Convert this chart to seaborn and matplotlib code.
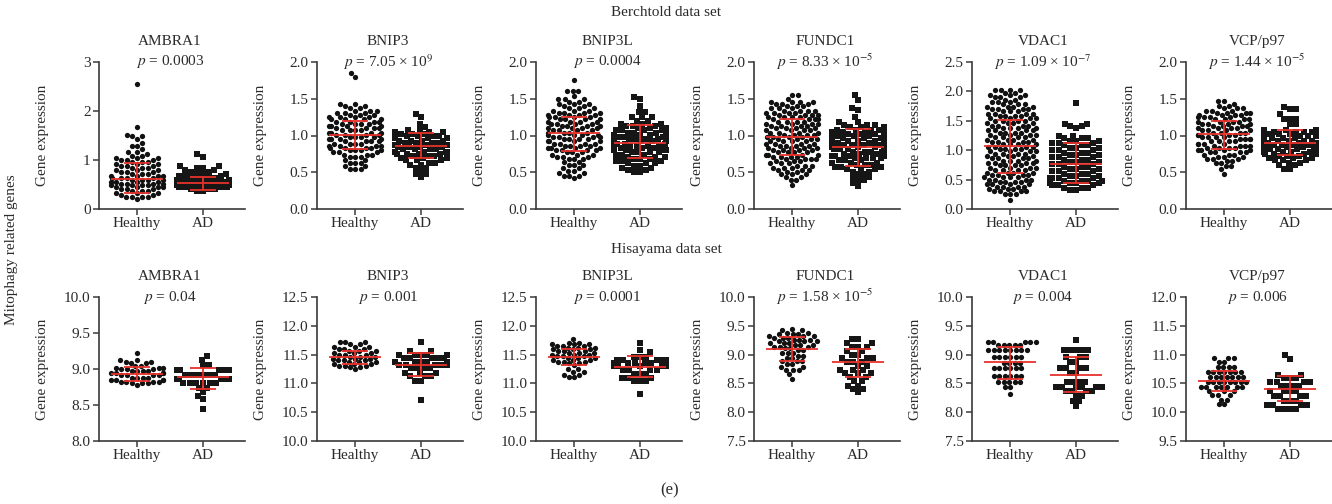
import numpy as np
import pandas as pd
import matplotlib
matplotlib.use("Agg")
import matplotlib.pyplot as plt
import matplotlib.transforms as mtransforms
import seaborn as sns

# ---------------- data ----------------
genes = ["AMBRA1", "BNIP3", "BNIP3L", "FUNDC1", "VDAC1", "VCP/p97"]
groups = ["Healthy", "AD"]

berch_pvals = [r"$p$ = 0.0003", r"$p$ = 7.05 × 10$^{9}$", r"$p$ = 0.0004",
               r"$p$ = 8.33 × 10$^{-5}$", r"$p$ = 1.09 × 10$^{-7}$", r"$p$ = 1.44 × 10$^{-5}$"]
hisa_pvals = [r"$p$ = 0.04", r"$p$ = 0.001", r"$p$ = 0.0001",
              r"$p$ = 1.58 × 10$^{-5}$", r"$p$ = 0.004", r"$p$ = 0.006"]

berch_yticks = [[0, 1, 2, 3], [0.0, 0.5, 1.0, 1.5, 2.0], [0.0, 0.5, 1.0, 1.5, 2.0],
                [0.0, 0.5, 1.0, 1.5, 2.0], [0.0, 0.5, 1.0, 1.5, 2.0, 2.5], [0.0, 0.5, 1.0, 1.5, 2.0]]
berch_ticklabels = [["0", "1", "2", "3"], ["0.0", "0.5", "1.0", "1.5", "2.0"],
                    ["0.0", "0.5", "1.0", "1.5", "2.0"], ["0.0", "0.5", "1.0", "1.5", "2.0"],
                    ["0.0", "0.5", "1.0", "1.5", "2.0", "2.5"], ["0.0", "0.5", "1.0", "1.5", "2.0"]]
hisa_yticks = [[8.0, 8.5, 9.0, 9.5, 10.0], [10.0, 10.5, 11.0, 11.5, 12.0, 12.5],
               [10.0, 10.5, 11.0, 11.5, 12.0, 12.5], [7.5, 8.0, 8.5, 9.0, 9.5, 10.0],
               [7.5, 8.0, 8.5, 9.0, 9.5, 10.0], [9.5, 10.0, 10.5, 11.0, 11.5, 12.0]]

# mean and SD bars: [Healthy, AD]
berch_means = [[0.62, 0.53], [1.007, 0.861], [1.038, 0.903], [0.975, 0.84], [1.071, 0.772], [1.016, 0.902]]
berch_sd_low = [[0.33, 0.383], [0.815, 0.692], [0.79, 0.688], [0.729, 0.586], [0.61, 0.449], [0.815, 0.737]]
berch_sd_high = [[0.929, 0.656], [1.203, 1.03], [1.25, 1.142], [1.221, 1.09], [1.52, 1.118], [1.194, 1.071]]
hisa_means = [[8.93, 8.884], [11.46, 11.328], [11.46, 11.287], [9.102, 8.864], [8.863, 8.654], [10.547, 10.407]]
hisa_sd_low = [[8.838, 8.727], [11.333, 11.132], [11.316, 11.103], [8.892, 8.614], [8.575, 8.348], [10.366, 10.192]]
hisa_sd_high = [[9.028, 9.014], [11.569, 11.534], [11.603, 11.483], [9.307, 9.102], [9.14, 8.965], [10.721, 10.634]]

# dot rows: level value and number of dots at that level
# Berchtold data set
b_ambra1_h_lv = [2.55, 1.68, 1.52, 1.48, 1.43, 1.35, 1.29, 1.22, 1.16, 1.12, 1.08, 1.04, 1.00, 0.96, 0.92, 0.88, 0.84,
                 0.80, 0.76, 0.72, 0.68, 0.64, 0.60, 0.56, 0.52, 0.48, 0.44, 0.40, 0.36, 0.32, 0.28, 0.24, 0.20]
b_ambra1_h_ct = [1, 1, 1, 2, 1, 1, 2, 1, 2, 1, 2, 3, 3, 3, 3, 3, 3,
                 3, 3, 3, 4, 4, 4, 4, 4, 4, 4, 3, 3, 3, 2, 4, 1]
b_ambra1_a_lv = [1.12, 1.07, 0.87, 0.84, 0.80, 0.76, 0.72, 0.68, 0.64, 0.60, 0.56, 0.52, 0.48, 0.44, 0.40, 0.36]
b_ambra1_a_ct = [1, 1, 2, 2, 2, 2, 3, 3, 3, 4, 4, 4, 4, 4, 3, 2]

b_bnip3_h_lv = [1.85, 1.80, 1.43, 1.40, 1.37, 1.34, 1.31, 1.28, 1.25, 1.22, 1.19, 1.16, 1.13, 1.10, 1.07, 1.04,
                1.01, 0.98, 0.95, 0.92, 0.89, 0.86, 0.83, 0.80, 0.77, 0.74, 0.71, 0.67, 0.63, 0.59, 0.55]
b_bnip3_h_ct = [1, 1, 2, 2, 2, 3, 3, 3, 4, 4, 4, 4, 4, 4, 4, 4,
                4, 4, 4, 4, 4, 4, 4, 4, 3, 3, 3, 2, 3, 2, 3]
b_bnip3_a_lv = [1.29, 1.25, 1.16, 1.12, 1.08, 1.05, 1.02, 0.99, 0.96, 0.93, 0.90, 0.87, 0.84,
                0.81, 0.78, 0.75, 0.72, 0.69, 0.66, 0.63, 0.60, 0.56, 0.52, 0.48, 0.44]
b_bnip3_a_ct = [1, 1, 1, 1, 2, 3, 3, 4, 4, 4, 4, 4, 4, 4, 4, 4, 3, 3, 3, 2, 2, 2, 1, 2, 1]

b_bnip3l_h_lv = [1.76, 1.61, 1.54, 1.50, 1.46, 1.43, 1.40, 1.37, 1.34, 1.31, 1.28, 1.25, 1.22, 1.19, 1.16, 1.13,
                 1.10, 1.07, 1.04, 1.01, 0.98, 0.95, 0.92, 0.89, 0.86, 0.83, 0.80, 0.77, 0.74, 0.71, 0.68,
                 0.64, 0.60, 0.56, 0.52, 0.49, 0.45, 0.42]
b_bnip3l_h_ct = [1, 3, 1, 3, 2, 3, 2, 3, 3, 4, 4, 4, 4, 4, 4, 4,
                 4, 4, 4, 4, 4, 4, 4, 4, 4, 4, 4, 3, 3, 3, 3,
                 2, 3, 2, 2, 2, 3, 1]
b_bnip3l_a_lv = [1.52, 1.49, 1.40, 1.32, 1.25, 1.20, 1.16, 1.13, 1.10, 1.07, 1.04, 1.01, 0.98, 0.95, 0.92,
                 0.89, 0.86, 0.83, 0.80, 0.77, 0.74, 0.71, 0.68, 0.65, 0.62, 0.59, 0.56, 0.53, 0.50]
b_bnip3l_a_ct = [1, 1, 1, 2, 3, 2, 3, 3, 3, 4, 4, 4, 4, 4, 4,
                 4, 4, 4, 4, 4, 3, 3, 3, 3, 3, 2, 2, 2, 2]

b_fundc1_h_lv = [1.55, 1.50, 1.46, 1.43, 1.40, 1.37, 1.34, 1.31, 1.28, 1.25, 1.22, 1.19, 1.16, 1.13, 1.10, 1.07,
                 1.04, 1.01, 0.98, 0.95, 0.92, 0.89, 0.86, 0.83, 0.80, 0.77, 0.74, 0.71, 0.68, 0.65, 0.62,
                 0.59, 0.56, 0.53, 0.50, 0.47, 0.43, 0.40, 0.33]
b_fundc1_h_ct = [2, 1, 4, 3, 3, 3, 4, 4, 4, 4, 4, 4, 4, 4, 4, 4,
                 4, 4, 4, 4, 4, 4, 4, 4, 4, 4, 4, 4, 4, 3, 3,
                 3, 3, 3, 2, 3, 2, 2, 1]
b_fundc1_a_lv = [1.55, 1.48, 1.38, 1.35, 1.25, 1.18, 1.14, 1.11, 1.08, 1.05, 1.02, 0.99, 0.96, 0.93, 0.90, 0.87,
                 0.84, 0.81, 0.78, 0.75, 0.72, 0.69, 0.66, 0.63, 0.60, 0.57, 0.54, 0.51, 0.47, 0.43, 0.39, 0.35, 0.31]
b_fundc1_a_ct = [1, 1, 1, 1, 1, 2, 3, 3, 4, 4, 4, 4, 4, 4, 4, 4,
                 4, 4, 4, 4, 4, 4, 3, 3, 3, 3, 3, 2, 2, 2, 2, 1, 1]

b_vdac1_h_lv = [2.03, 1.98, 1.94, 1.90, 1.86, 1.82, 1.78, 1.74, 1.70, 1.66, 1.62, 1.58, 1.54, 1.50, 1.46, 1.42,
                1.38, 1.34, 1.30, 1.26, 1.22, 1.18, 1.14, 1.10, 1.06, 1.02, 0.98, 0.94, 0.90, 0.86, 0.82, 0.78,
                0.74, 0.70, 0.66, 0.62, 0.58, 0.54, 0.50, 0.46, 0.42, 0.38, 0.34, 0.30, 0.26, 0.15]
b_vdac1_h_ct = [4, 2, 3, 3, 2, 3, 3, 4, 4, 3, 4, 4, 4, 4, 4, 4,
                4, 4, 4, 4, 4, 4, 4, 4, 4, 4, 4, 4, 4, 4, 4, 4,
                4, 4, 4, 4, 4, 4, 4, 4, 4, 4, 3, 4, 3, 1]
b_vdac1_a_lv = [1.80, 1.45, 1.41, 1.37, 1.25, 1.20, 1.16, 1.12, 1.08, 1.04, 1.00, 0.96, 0.92, 0.88,
                0.84, 0.80, 0.76, 0.72, 0.68, 0.64, 0.60, 0.56, 0.52, 0.48, 0.44, 0.40, 0.36, 0.33]
b_vdac1_a_ct = [1, 2, 2, 1, 2, 3, 3, 3, 3, 3, 3, 3, 3, 3,
                3, 3, 3, 3, 3, 3, 3, 3, 4, 4, 4, 3, 3, 2]

b_vcp_h_lv = [1.47, 1.43, 1.40, 1.37, 1.34, 1.31, 1.28, 1.25, 1.22, 1.19, 1.16, 1.13, 1.10, 1.07, 1.04, 1.01,
              0.98, 0.95, 0.92, 0.89, 0.86, 0.83, 0.80, 0.77, 0.74, 0.71, 0.68, 0.65, 0.62, 0.58, 0.54, 0.48]
b_vcp_h_ct = [2, 1, 2, 3, 3, 4, 4, 4, 4, 4, 4, 4, 4, 4, 4, 4,
              4, 4, 4, 4, 4, 4, 4, 4, 3, 3, 3, 2, 2, 2, 1, 1]
b_vcp_a_lv = [1.39, 1.36, 1.29, 1.23, 1.15, 1.08, 1.05, 1.02, 0.99, 0.96, 0.93, 0.90, 0.87, 0.84, 0.81,
              0.78, 0.75, 0.72, 0.69, 0.66, 0.63, 0.60, 0.55]
b_vcp_a_ct = [1, 2, 1, 3, 2, 3, 4, 4, 4, 4, 4, 4, 4, 4, 4, 4, 4, 3, 3, 3, 2, 2, 2]

# Hisayama data set
h_ambra1_h_lv = [9.22, 9.12, 9.10, 9.08, 9.04, 9.02, 9.00, 8.97, 8.94, 8.91, 8.88, 8.85, 8.82, 8.80, 8.78]
h_ambra1_h_ct = [1, 2, 2, 2, 2, 3, 3, 4, 4, 4, 4, 4, 4, 3, 1]
h_ambra1_a_lv = [9.18, 9.13, 9.05, 8.98, 8.92, 8.86, 8.81, 8.74, 8.68, 8.63, 8.58, 8.45]
h_ambra1_a_ct = [1, 1, 2, 6, 6, 6, 6, 2, 1, 1, 1, 1]

h_bnip3_h_lv = [11.72, 11.68, 11.64, 11.60, 11.56, 11.52, 11.49, 11.46, 11.43, 11.40, 11.37, 11.34, 11.31, 11.28, 11.25]
h_bnip3_h_ct = [3, 2, 3, 3, 3, 3, 3, 3, 3, 3, 3, 3, 3, 2, 1]
h_bnip3_a_lv = [11.72, 11.57, 11.50, 11.44, 11.38, 11.32, 11.26, 11.18, 11.12, 11.05, 10.72]
h_bnip3_a_ct = [1, 2, 5, 5, 5, 5, 4, 3, 3, 2, 1]

h_bnip3l_h_lv = [11.77, 11.71, 11.68, 11.65, 11.62, 11.59, 11.56, 11.53, 11.50, 11.47, 11.44, 11.41, 11.38,
                 11.35, 11.32, 11.25, 11.20, 11.15, 11.11]
h_bnip3l_h_ct = [1, 2, 3, 3, 3, 3, 3, 3, 3, 3, 3, 3, 3, 2, 1, 2, 2, 2, 2]
h_bnip3l_a_lv = [11.70, 11.58, 11.54, 11.46, 11.40, 11.35, 11.30, 11.24, 11.17, 11.10, 11.05, 10.82]
h_bnip3l_a_ct = [1, 1, 1, 3, 5, 6, 6, 4, 3, 3, 3, 1]

h_fundc1_h_lv = [9.45, 9.42, 9.38, 9.35, 9.32, 9.29, 9.26, 9.23, 9.20, 9.17, 9.14, 9.11, 9.08, 9.03, 8.98,
                 8.94, 8.89, 8.84, 8.78, 8.73, 8.66, 8.58]
h_fundc1_h_ct = [1, 2, 2, 3, 3, 3, 3, 3, 3, 3, 3, 2, 2, 3, 2, 2, 3, 2, 2, 3, 1, 1]
h_fundc1_a_lv = [9.27, 9.20, 9.14, 9.07, 9.00, 8.94, 8.88, 8.81, 8.74, 8.68, 8.61, 8.54, 8.46, 8.40, 8.35]
h_fundc1_a_ct = [2, 2, 3, 2, 2, 3, 3, 2, 3, 3, 2, 2, 2, 2, 1]

h_vdac1_h_lv = [9.22, 9.17, 9.08, 8.95, 8.85, 8.76, 8.63, 8.52, 8.43, 8.31]
h_vdac1_h_ct = [5, 5, 8, 6, 4, 6, 6, 5, 2, 1]
h_vdac1_a_lv = [9.25, 9.08, 8.96, 8.88, 8.76, 8.68, 8.53, 8.44, 8.36, 8.28, 8.19, 8.10]
h_vdac1_a_ct = [1, 5, 3, 2, 4, 2, 4, 6, 4, 2, 2, 1]

h_vcp_h_lv = [10.94, 10.88, 10.78, 10.69, 10.61, 10.53, 10.44, 10.36, 10.29, 10.22, 10.14]
h_vcp_h_ct = [3, 2, 4, 7, 7, 8, 7, 3, 3, 2, 2]
h_vcp_a_lv = [11.00, 10.93, 10.65, 10.60, 10.52, 10.45, 10.36, 10.28, 10.20, 10.12, 10.06]
h_vcp_a_ct = [1, 1, 2, 3, 4, 4, 4, 4, 3, 4, 4]

berch_data = [
    ((b_ambra1_h_lv, b_ambra1_h_ct), (b_ambra1_a_lv, b_ambra1_a_ct)),
    ((b_bnip3_h_lv, b_bnip3_h_ct), (b_bnip3_a_lv, b_bnip3_a_ct)),
    ((b_bnip3l_h_lv, b_bnip3l_h_ct), (b_bnip3l_a_lv, b_bnip3l_a_ct)),
    ((b_fundc1_h_lv, b_fundc1_h_ct), (b_fundc1_a_lv, b_fundc1_a_ct)),
    ((b_vdac1_h_lv, b_vdac1_h_ct), (b_vdac1_a_lv, b_vdac1_a_ct)),
    ((b_vcp_h_lv, b_vcp_h_ct), (b_vcp_a_lv, b_vcp_a_ct)),
]
hisa_data = [
    ((h_ambra1_h_lv, h_ambra1_h_ct), (h_ambra1_a_lv, h_ambra1_a_ct)),
    ((h_bnip3_h_lv, h_bnip3_h_ct), (h_bnip3_a_lv, h_bnip3_a_ct)),
    ((h_bnip3l_h_lv, h_bnip3l_h_ct), (h_bnip3l_a_lv, h_bnip3l_a_ct)),
    ((h_fundc1_h_lv, h_fundc1_h_ct), (h_fundc1_a_lv, h_fundc1_a_ct)),
    ((h_vdac1_h_lv, h_vdac1_h_ct), (h_vdac1_a_lv, h_vdac1_a_ct)),
    ((h_vcp_h_lv, h_vcp_h_ct), (h_vcp_a_lv, h_vcp_a_ct)),
]

# ---------------- style ----------------
sns.set_style("ticks")
plt.rcParams["font.family"] = ["Liberation Serif", "DejaVu Serif"]
plt.rcParams["mathtext.fontset"] = "stix"
TXT = "#2b2b2b"
SPINE = "#3a3a3a"
RED = "#e8322c"
FS = 11

fig = plt.figure(figsize=(13.32, 5.04), dpi=100)
W, H = 1332.0, 504.0
lefts_px = [99, 317, 536, 754, 972, 1186]
ax_w_px = 146
rows_px = [(62, 209), (297, 441)]


def make_df(pair):
    recs = []
    for g, (lv, ct) in zip(groups, pair):
        vals = np.repeat(np.asarray(lv, float), np.asarray(ct, int))
        recs.append(pd.DataFrame({"group": g, "value": vals}))
    return pd.concat(recs, ignore_index=True)


def draw_panel(ax, df, gene, ptxt, yticks, yticklabels, means, lows, highs):
    dh = df[df.group == "Healthy"]
    da = df[df.group == "AD"]
    sns.swarmplot(data=dh, x="group", y="value", order=groups, marker="o",
                  color="#111111", size=3.8, linewidth=0, ax=ax, warn_thresh=1)
    sns.swarmplot(data=da, x="group", y="value", order=groups, marker="s",
                  color="#161616", size=4.2, linewidth=0, ax=ax, warn_thresh=1)
    for i in range(len(groups)):
        m, lo, hi = means[i], lows[i], highs[i]
        ax.hlines(m, i - 0.4, i + 0.4, color=RED, lw=1.3, zorder=10)
        ax.hlines([lo, hi], i - 0.2, i + 0.2, color=RED, lw=1.3, zorder=10)
        ax.vlines(i, lo, hi, color=RED, lw=1.3, zorder=10)
    ax.set_xlim(-0.58, 1.64)
    ax.set_ylim(yticks[0], yticks[-1])
    ax.set_yticks(yticks)
    ax.set_yticklabels(yticklabels if yticklabels else [f"{t:.1f}" for t in yticks])
    ax.set_xlabel("")
    ax.set_ylabel("Gene expression", fontsize=FS, color=TXT)
    ax.yaxis.set_label_coords(-50.0 / ax_w_px, 0.5)
    sns.despine(ax=ax)
    for sp in ["left", "bottom"]:
        ax.spines[sp].set_color(SPINE)
        ax.spines[sp].set_linewidth(1.2)
    ax.tick_params(direction="out", length=4, width=1.1, color=SPINE,
                   labelsize=FS, labelcolor=TXT, pad=2)
    ax.set_facecolor("none")
    trans = mtransforms.blended_transform_factory(ax.transData, ax.transAxes)
    ax.text(0.5, 1.0, ptxt, transform=trans, ha="center", va="center",
            fontsize=FS, color=TXT, zorder=20)
    ax.annotate(gene, xy=(0.5, 1.0), xycoords=trans, xytext=(0, 14.5),
                textcoords="offset points", ha="center", va="center",
                fontsize=FS, color=TXT)


sets = [(berch_data, berch_pvals, berch_yticks, berch_ticklabels, berch_means, berch_sd_low, berch_sd_high),
        (hisa_data, hisa_pvals, hisa_yticks, [None] * 6, hisa_means, hisa_sd_low, hisa_sd_high)]
for r, (data, pvals, yt, ytl, mns, los, his) in enumerate(sets):
    top_px, bot_px = rows_px[r]
    for c in range(6):
        ax = fig.add_axes([lefts_px[c] / W, 1 - bot_px / H, ax_w_px / W, (bot_px - top_px) / H])
        df = make_df(data[c])
        draw_panel(ax, df, genes[c], pvals[c], yt[c], ytl[c], mns[c], los[c], his[c])

fig.text(0.5, 1 - 12 / H, "Berchtold data set", ha="center", va="center", fontsize=FS, color=TXT)
fig.text(0.5, 1 - 250 / H, "Hisayama data set", ha="center", va="center", fontsize=FS, color=TXT)
fig.text(0.503, 1 - 490 / H, "(e)", ha="center", va="center", fontsize=FS + 1, color=TXT)
fig.text(12 / W, 1 - 250 / H, "Mitophagy related genes", ha="center", va="center",
         rotation=90, fontsize=FS, color=TXT)

fig.savefig("out.png", dpi=100, facecolor="white")
